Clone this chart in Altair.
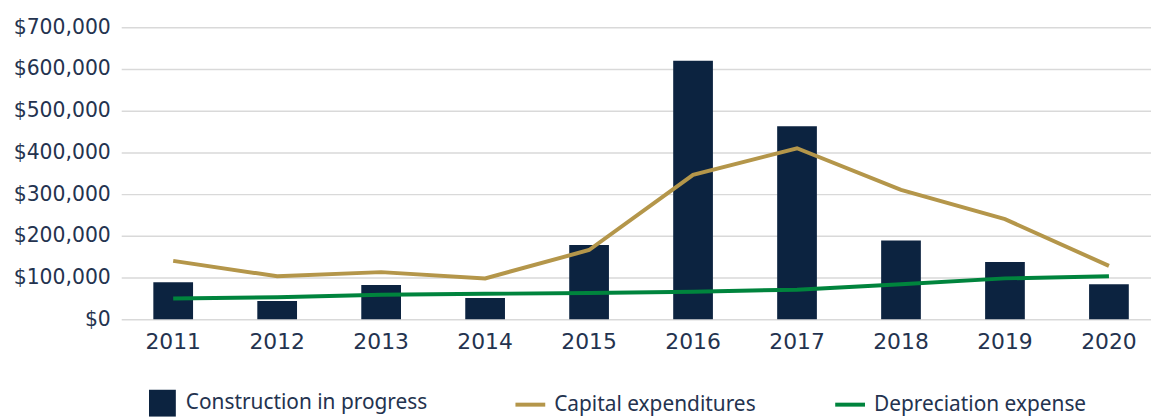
import altair as alt
import pandas as pd

years = ["2011", "2012", "2013", "2014", "2015", "2016", "2017", "2018", "2019", "2020"]
construction = [89000, 44000, 82000, 51000, 178000, 620000, 463000, 189000, 137000, 84000]
capex = [140000, 103000, 113000, 98000, 166000, 346000, 410000, 310000, 240000, 128000]
depreciation = [50000, 53000, 59000, 61000, 63000, 66000, 71000, 84000, 98000, 103000]

NAVY = "#0c2340"
GOLD = "#b4964a"
GREEN = "#00843d"
TEXT = "#24334f"
FONT = "Noto Sans"
AXFONT = "DejaVu Sans"

bars = pd.DataFrame({"year": years, "value": construction, "series": "Construction in progress"})
lines = pd.concat([
    pd.DataFrame({"year": years, "value": capex, "series": "Capital expenditures"}),
    pd.DataFrame({"year": years, "value": depreciation, "series": "Depreciation expense"}),
])

xscale = alt.Scale(range=[0, 1047], paddingInner=0.618, paddingOuter=0.309)
x = alt.X("year:O", scale=xscale, sort=years,
          axis=alt.Axis(title=None, labelAngle=0, ticks=False, domain=False,
                        labelPadding=12, labelFontSize=22, labelColor=TEXT, labelFont=AXFONT))
y = alt.Y("value:Q", scale=alt.Scale(domain=[0, 700000], nice=False),
          axis=alt.Axis(title=None, format="$,.0f", values=[0, 100000, 200000, 300000, 400000, 500000, 600000, 700000],
                        ticks=False, domain=False, grid=True, gridColor="#d9d9d9", gridWidth=1.5,
                        labelPadding=11, labelFontSize=20.5, labelColor=TEXT, labelFont=AXFONT))

bar = alt.Chart(bars).mark_bar().encode(
    x=x, y=y,
    fill=alt.Fill("series:N", scale=alt.Scale(range=[NAVY]),
                  legend=alt.Legend(orient="none", legendX=28, legendY=365, title=None,
                                    symbolType="square", symbolSize=729, symbolStrokeWidth=0,
                                    labelFontSize=21, labelColor=TEXT, labelFont=FONT, labelOffset=10,
                                    labelLimit=500)),
)

line = alt.Chart(lines).mark_line(strokeWidth=4).encode(
    x=x, y=y,
    stroke=alt.Stroke("series:N", sort=["Capital expenditures", "Depreciation expense"],
                      scale=alt.Scale(domain=["Capital expenditures", "Depreciation expense"], range=[GOLD, GREEN]),
                      legend=alt.Legend(orient="none", legendX=395, legendY=363, title=None, direction="horizontal",
                                        symbolType="stroke", symbolSize=900, symbolStrokeWidth=4,
                                        columnPadding=72, labelFontSize=21, labelColor=TEXT, labelFont=FONT,
                                        labelOffset=7, labelLimit=500)),
)

chart = alt.layer(bar, line).properties(
    width=1037, height=294,
    autosize=alt.AutoSizeParams(type="none"),
    padding={"left": 114, "top": 18, "right": 0, "bottom": 97},
).configure_view(stroke=None)

chart.save("out.html", embed_options={"renderer": "svg", "actions": False})
